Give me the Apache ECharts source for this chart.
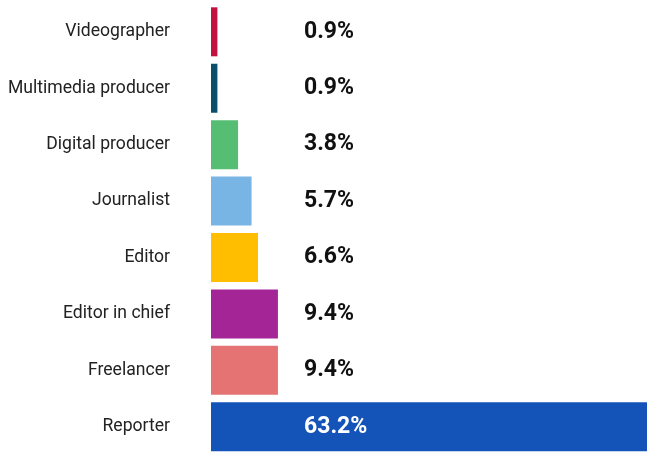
<!DOCTYPE html>
<html>
<head>
<meta charset="utf-8">
<style>
  html, body { margin: 0; padding: 0; background: #fff; overflow: hidden; }
  /* The plot runs a little past the right edge of the window */
  #chart { width: 661px; height: 455px; }
</style>
<script src="https://cdn.jsdelivr.net/npm/echarts@6/dist/echarts.min.js"></script>
</head>
<body>
<div id="chart"></div>
<script>
// Job roles, top to bottom, with their share in percent
const roles = ['Videographer', 'Multimedia producer', 'Digital producer', 'Journalist', 'Editor', 'Editor in chief', 'Freelancer', 'Reporter'];
const shares = [0.9, 0.9, 3.8, 5.7, 6.6, 9.4, 9.4, 63.2];
const roleColors = ['#C1133F', '#0B4F6C', '#55BE73', '#78B5E5', '#FFBE00', '#A32596', '#E57373', '#1454B8'];
const labelColors = ['#111', '#111', '#111', '#111', '#111', '#111', '#111', '#fff'];

const chart = echarts.init(document.getElementById('chart'));

chart.setOption({
  animation: false,
  grid: { left: 211, right: 0, top: 3.6, bottom: 0, containLabel: false },
  xAxis: {
    type: 'value',
    min: 0,
    max: 63.2,
    show: false
  },
  yAxis: {
    type: 'category',
    inverse: true,
    data: roles,
    axisLine: { show: false },
    axisTick: { show: false },
    splitLine: { show: false },
    axisLabel: {
      margin: 41,
      color: '#222',
      fontFamily: 'Roboto',
      fontSize: 17.6
    }
  },
  series: [{
    type: 'bar',
    barWidth: 49,
    data: shares.map((v, i) => ({
      value: v,
      itemStyle: { color: roleColors[i] },
      label: { color: labelColors[i] }
    })),
    label: {
      show: true,
      position: [93, '50%'],
      verticalAlign: 'middle',
      align: 'left',
      fontFamily: 'Roboto',
      fontWeight: 'bold',
      fontSize: 23,
      formatter: p => p.value + '%'
    }
  }]
});
</script>
</body>
</html>
